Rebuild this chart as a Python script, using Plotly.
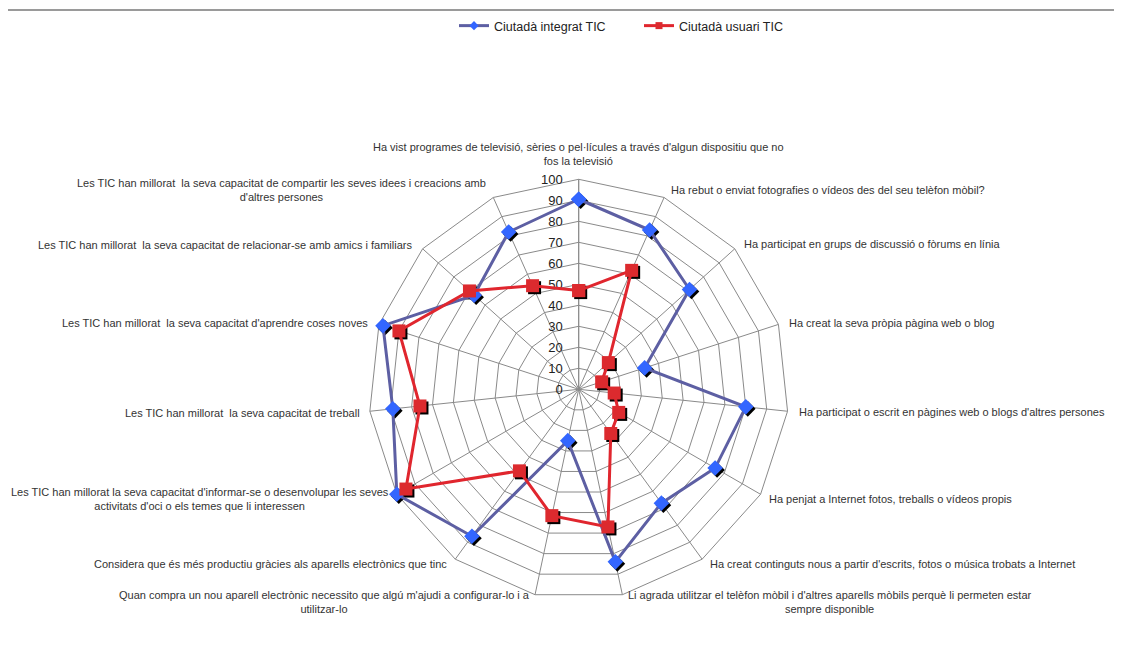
import plotly.graph_objects as go

categories = [
    "Ha vist programes de televisió, sèries o pel·lícules a través d'algun dispositiu que no<br>fos la televisió",
    "Ha rebut o enviat fotografies o vídeos des del seu telèfon mòbil?",
    "Ha participat en grups de discussió o fòrums en línia",
    "Ha creat la seva pròpia pàgina web o blog",
    "Ha participat o escrit en pàgines web o blogs d'altres persones",
    "Ha penjat a Internet fotos, treballs o vídeos propis",
    "Ha creat continguts nous a partir d'escrits, fotos o música trobats a Internet",
    "Li agrada utilitzar el telèfon mòbil i d'altres aparells mòbils perquè li permeten estar<br>sempre disponible",
    "Quan compra un nou aparell electrònic necessito que algú m'ajudi a configurar-lo i a<br>utilitzar-lo",
    "Considera que és més productiu gràcies als aparells electrònics que tinc",
    "Les TIC han millorat la seva capacitat d'informar-se o desenvolupar les seves<br>activitats d'oci o els temes que li interessen",
    "Les TIC han millorat  la seva capacitat de treball",
    "Les TIC han millorat  la seva capacitat d'aprendre coses noves",
    "Les TIC han millorat  la seva capacitat de relacionar-se amb amics i familiars",
    "Les TIC han millorat  la seva capacitat de compartir les seves idees i creacions amb<br>d'altres persones",
]
integrat = [90.5, 83, 71, 33, 80, 75, 67, 84, 25, 86.5, 100, 89, 98, 67, 82]
usuari = [47, 62, 19, 11.5, 17, 22, 26, 67, 61.5, 48, 95, 76, 90, 70, 54]
series_names = ["Ciutadà integrat TIC", "Ciutadà usuari TIC"]

# label placement (page px): anchor x, centre y, horizontal anchor
label_pos = [
    (578.5, 154.5, "center"), (670, 190.5, "left"), (743, 244, "left"),
    (788, 322.5, "left"), (797.5, 412, "left"), (768, 498.5, "left"),
    (709, 564, "left"), (627, 601.5, "left"), (531, 601.5, "right"),
    (448, 564, "right"), (389.5, 498.5, "right"), (360.5, 412.5, "right"),
    (369, 323, "right"), (413, 244.5, "right"), (487, 190.3, "right"),
]

W, H = 1122, 664
OFF = 8  # page body margin
cx, cy, R = 578.7 - OFF, 389.3 - OFF, 210

def dom(dx=0, dy=0):
    x0 = (cx - R + dx) / W
    x1 = (cx + R + dx) / W
    yb = H - (cy + dy)
    return dict(x=[x0, x1], y=[(yb - R) / H, (yb + R) / H])

BLUE_LINE = "#5D5FA3"
BLUE_MK = "#3366FF"
RED_LINE = "#E0262E"
RED_MK = "#DC2A2E"
GRID = "#8A8A8A"
FONT = "Liberation Sans, Arial, sans-serif"

def closed(v):
    return list(v) + [v[0]]

theta = closed(categories)

fig = go.Figure()

# legend entries (also anchor the grid subplot)
fig.add_trace(go.Scatterpolar(
    r=[None], theta=[categories[0]], mode="lines+markers", subplot="polar",
    line=dict(color=BLUE_LINE, width=3),
    marker=dict(symbol="diamond", size=7, color=BLUE_MK),
    name=series_names[0]))
fig.add_trace(go.Scatterpolar(
    r=[None], theta=[categories[0]], mode="lines+markers", subplot="polar",
    line=dict(color=RED_LINE, width=3),
    marker=dict(symbol="square", size=7, color=RED_MK),
    name=series_names[1]))

# shadow markers (offset subplot)
for vals, sym, sz in [(integrat, "diamond", 12), (usuari, "square", 13)]:
    fig.add_trace(go.Scatterpolar(
        r=vals, theta=categories, mode="markers", subplot="polar2",
        marker=dict(symbol=sym, size=sz, color="black"),
        showlegend=False, hoverinfo="skip"))

fig.add_trace(go.Scatterpolar(
    r=closed(integrat), theta=theta, mode="lines+markers", subplot="polar3",
    line=dict(color=BLUE_LINE, width=3),
    marker=dict(symbol="diamond", size=12, color=BLUE_MK),
    name=series_names[0], showlegend=False))
fig.add_trace(go.Scatterpolar(
    r=closed(usuari), theta=theta, mode="lines+markers", subplot="polar3",
    line=dict(color=RED_LINE, width=3),
    marker=dict(symbol="square", size=13, color=RED_MK),
    name=series_names[1], showlegend=False))

hidden_radial = dict(visible=False, range=[0, 100])
hidden_ang = dict(visible=False, rotation=90, direction="clockwise",
                  categoryarray=categories, categoryorder="array",
                  type="category")

annotations = []
for text, (px, py, anchor) in zip(categories, label_pos):
    annotations.append(dict(
        text=text, xref="paper", yref="paper",
        x=(px - OFF) / W, y=1 - (py - OFF) / H,
        xanchor=anchor, yanchor="middle", align="center",
        showarrow=False, borderpad=0,
        font=dict(size=11, color="#333", family=FONT)))

fig.update_layout(
    width=W, height=H,
    margin=dict(l=0, r=0, t=0, b=0),
    paper_bgcolor="white",
    font=dict(family=FONT, color="#222"),
    polar=dict(
        domain=dom(),
        bgcolor="rgba(0,0,0,0)",
        gridshape="linear",
        radialaxis=dict(range=[0, 100], dtick=10, tick0=0, angle=90,
                        side="counterclockwise", showline=True,
                        linecolor=GRID, linewidth=1, gridcolor=GRID,
                        gridwidth=1, ticks="outside", ticklen=11,
                        tickcolor="rgba(0,0,0,0)", tickangle=90,
                        tickfont=dict(size=13, color="#222")),
        angularaxis=dict(rotation=90, direction="clockwise", type="category",
                         categoryarray=categories, categoryorder="array",
                         showline=True, showticklabels=False,
                         linecolor=GRID, linewidth=1, gridcolor=GRID,
                         ticks=""),
    ),
    polar2=dict(domain=dom(2, 2), bgcolor="rgba(0,0,0,0)", gridshape="linear",
                radialaxis=hidden_radial, angularaxis=hidden_ang),
    polar3=dict(domain=dom(), bgcolor="rgba(0,0,0,0)", gridshape="linear",
                radialaxis=hidden_radial, angularaxis=hidden_ang),
    legend=dict(orientation="h", x=(454 - OFF) / W, xanchor="left",
                y=1 - (26 - OFF) / H, yanchor="middle", entrywidth=140,
                font=dict(size=12.5, color="#222"), bgcolor="rgba(0,0,0,0)"),
    annotations=annotations,
    shapes=[dict(type="line", xref="paper", yref="paper",
                 x0=-0.01, x1=1.01, y0=1 - (10 - OFF) / H, y1=1 - (10 - OFF) / H,
                 line=dict(color="#9A9A9A", width=2))],
)

fig.write_html("out.html")
